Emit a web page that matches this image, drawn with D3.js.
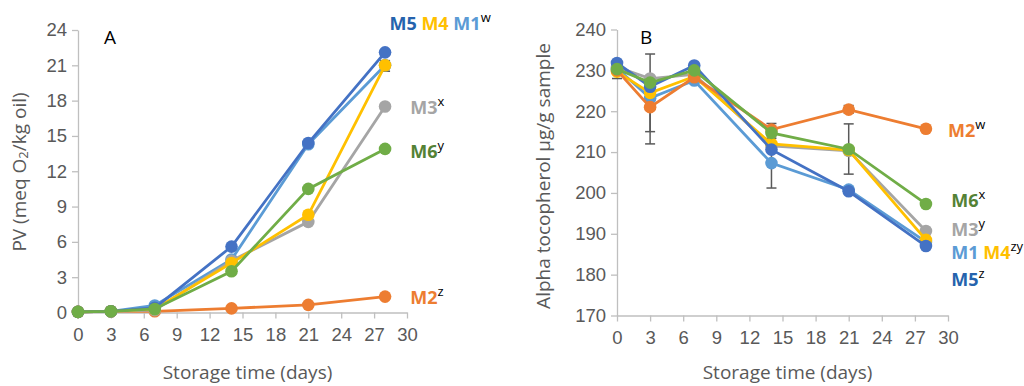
<!DOCTYPE html>
<html>
<head>
<meta charset="utf-8">
<script src="https://cdn.jsdelivr.net/npm/d3@7"></script>
<style>
  body { margin: 0; background: #fff; }
  svg { display: block; font-family: "Open Sans", "Noto Sans", sans-serif; }
  .domain, .tick line { stroke: #bfbfbf; stroke-width: 1.3; }
  .tick text { fill: #595959; font-size: 18.5px; }
  .title { fill: #595959; font-size: 19px; }
</style>
</head>
<body>
<svg id="chart" width="1024" height="386"></svg>
<script>
// storage days
const days = [0, 3, 7, 14, 21, 28];
const seriesNames = ["M1", "M2", "M3", "M4", "M5", "M6"];
const lineColors = ["#5b9bd5", "#ed7d31", "#a5a5a5", "#ffc000", "#4472c4", "#70ad47"];
const labelColors = { M1: "#5b9bd5", M2: "#ed7d31", M3: "#a5a5a5", M4: "#ffc000", M5: "#2563ad", M6: "#548235" };

// panel A: peroxide value (meq O2/kg oil)
const pvM1 = [0.05, 0.1, 0.6, 4.5, 14.3, 21.0];
const pvM2 = [0.05, 0.1, 0.1, 0.35, 0.65, 1.35];
const pvM3 = [0.05, 0.1, 0.2, 4.4, 7.7, 17.5];
const pvM4 = [0.05, 0.1, 0.3, 4.2, 8.3, 21.0];
const pvM5 = [0.05, 0.1, 0.4, 5.6, 14.4, 22.1];
const pvM6 = [0.05, 0.1, 0.3, 3.5, 10.5, 13.9];

// panel B: alpha tocopherol (ug/g sample)
const tocM1 = [230.5, 223.2, 227.5, 207.3, 200.8, 188.0];
const tocM2 = [230.0, 221.0, 228.3, 215.5, 220.4, 215.7];
const tocM3 = [230.8, 228.0, 229.0, 211.5, 210.3, 190.7];
const tocM4 = [229.7, 224.5, 228.5, 212.0, 210.5, 188.5];
const tocM5 = [231.8, 226.0, 231.2, 210.6, 200.4, 187.0];
const tocM6 = [230.3, 227.0, 230.0, 214.7, 210.7, 197.3];

// error bars [day, low, high]
const errA = [[28, 20.5, 21.4]];
const errB = [[0, 228.0, 231.0], [3, 212.0, 234.0], [3, 215.0, 227.0], [14, 201.2, 213.4],
              [14, 214.0, 217.0], [21, 204.6, 216.9], [21, 219.5, 221.4]];

const xTicks = d3.range(0, 31, 3);
const yTicksA = d3.range(0, 25, 3);
const yTicksB = d3.range(170, 241, 10);

// end labels: [parts, day, value]; each part [text, series colour key or null, superscript?]
const labelsA = [
  [[["M5", "M5"], [" M4", "M4"], [" M1", "M1"], ["w", null, true]], 28.4, 24.0],
  [[["M3", "M3"], ["x", null, true]], 30.3, 16.9],
  [[["M6", "M6"], ["y", null, true]], 30.3, 13.1],
  [[["M2", "M2"], ["z", null, true]], 30.3, 0.7]
];
const labelsB = [
  [[["M2", "M2"], ["w", null, true]], 30.0, 213.7],
  [[["M6", "M6"], ["x", null, true]], 30.3, 196.6],
  [[["M3", "M3"], ["y", null, true]], 30.3, 189.5],
  [[["M1", "M1"], [" M4", "M4"], ["zy", null, true]], 30.3, 183.8],
  [[["M5", "M5"], ["z", null, true]], 30.3, 177.2]
];

const svg = d3.select("#chart");

function panel(opts) {
  const x = d3.scaleLinear().domain([0, 30]).range([opts.x0, opts.x1]);
  const y = d3.scaleLinear().domain(opts.yDomain).range([opts.y0, opts.y1]);
  const g = svg.append("g");

  g.append("g").attr("transform", `translate(0,${opts.y0})`)
    .call(d3.axisBottom(x).tickValues(xTicks).tickSize(6).tickPadding(9).tickSizeOuter(0));
  g.append("g").attr("transform", `translate(${opts.x0},0)`)
    .call(d3.axisLeft(y).tickValues(opts.yTicks).tickSize(6).tickPadding(5).tickSizeOuter(0));

  // error bars
  opts.err.forEach(([d, lo, hi]) => {
    const eg = g.append("g").attr("stroke", "#595959").attr("stroke-width", 1.5);
    eg.append("line").attr("x1", x(d)).attr("x2", x(d)).attr("y1", y(lo)).attr("y2", y(hi));
    [lo, hi].forEach(v => eg.append("line")
      .attr("x1", x(d) - 5).attr("x2", x(d) + 5).attr("y1", y(v)).attr("y2", y(v)));
  });

  const line = d3.line().x((d, i) => x(days[i])).y(d => y(d));
  opts.order.forEach(k => {
    const vals = opts.data[k];
    const c = lineColors[k];
    g.append("path").attr("d", line(vals)).attr("fill", "none")
      .attr("stroke", c).attr("stroke-width", 2.8);
    g.selectAll(null).data(vals).enter().append("circle")
      .attr("cx", (d, i) => x(days[i])).attr("cy", d => y(d)).attr("r", 6.3).attr("fill", c);
  });

  // panel letter
  g.append("text").attr("x", opts.letterX).attr("y", 44)
    .attr("font-size", 19).attr("fill", "#000").text(opts.letter);

  // axis titles
  g.append("text").attr("class", "title").attr("text-anchor", "middle")
    .attr("x", (opts.x0 + opts.x1) / 2 + 5).attr("y", 379).text("Storage time (days)");
  g.append("text").attr("class", "title").attr("text-anchor", "middle")
    .attr("transform", `translate(${opts.titleX},${opts.titleY}) rotate(-90)`)
    .call(opts.yTitle);

  // end labels
  opts.labels.forEach(([parts, d, v]) => {
    const t = g.append("text").attr("x", x(d)).attr("y", y(v))
      .attr("font-weight", "bold").attr("font-size", 18);
    parts.forEach(([txt, key, sup]) => {
      const ts = t.append("tspan").text(txt)
        .attr("fill", key ? labelColors[key] : "#000");
      if (sup) ts.attr("font-size", 13).attr("font-weight", "normal").attr("dy", -8);
    });
  });
}

panel({
  x0: 78, x1: 407, y0: 312.5, y1: 30, yDomain: [0, 24], yTicks: yTicksA,
  data: [pvM1, pvM2, pvM3, pvM4, pvM5, pvM6], order: [0, 1, 2, 3, 4, 5],
  err: errA, letter: "A", letterX: 104, labels: labelsA, titleX: 26, titleY: 172,
  yTitle: t => {
    t.append("tspan").text("PV (meq O");
    t.append("tspan").text("2").attr("font-size", 13).attr("dy", 2);
    t.append("tspan").text("/kg oil)").attr("dy", -2);
  }
});

panel({
  x0: 617, x1: 948, y0: 315.5, y1: 29.5, yDomain: [170, 240], yTicks: yTicksB,
  data: [tocM1, tocM2, tocM3, tocM4, tocM5, tocM6], order: [0, 2, 3, 1, 4, 5],
  err: errB, letter: "B", letterX: 640, labels: labelsB, titleX: 550, titleY: 176,
  yTitle: t => t.text("Alpha tocopherol \u00b5g/g sample")
});
</script>
</body>
</html>
